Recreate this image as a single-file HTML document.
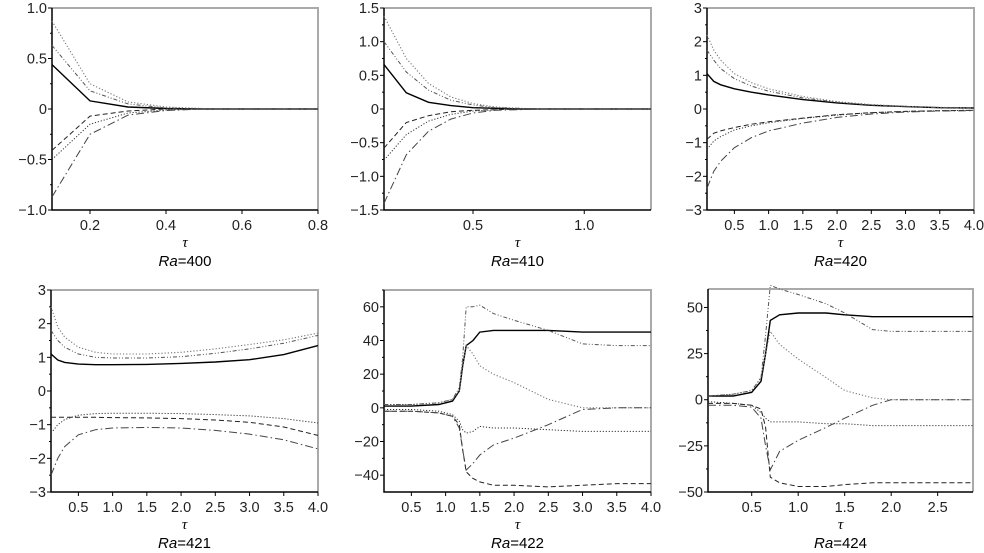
<!DOCTYPE html>
<html><head><meta charset="utf-8"><style>
html,body{margin:0;padding:0;background:#fff;}
svg{display:block;font-family:"Liberation Sans",sans-serif;}
</style></head><body>
<svg id="fig" width="984" height="553" viewBox="0 0 984 553"></svg>
<script>
// ---- data (per panel) ----
const p1X=[0.1,0.2,0.3,0.4,0.5,0.6,0.7,0.8];
const p1A=[0.44,0.08,0.02,0.005,0,0,0,0];
const p1B=[0.87,0.25,0.07,0.02,0.005,0,0,0];
const p1C=[0.63,0.18,0.05,0.01,0,0,0,0];
const p1D=[-0.41,-0.07,-0.02,0,0,0,0,0];
const p1E=[-0.5,-0.15,-0.04,-0.01,0,0,0,0];
const p1F=[-0.87,-0.25,-0.06,-0.015,0,0,0,0];
const p1XT=[0.2,0.4,0.6,0.8]; const p1YT=[-1.0,-0.5,0,0.5,1.0];

const p2X=[0.1,0.2,0.3,0.4,0.5,0.6,0.7,0.8,0.9,1.0,1.1,1.2,1.3];
const p2A=[0.66,0.24,0.1,0.05,0.02,0.01,0,0,0,0,0,0,0];
const p2B=[1.38,0.75,0.38,0.18,0.08,0.03,0.01,0,0,0,0,0,0];
const p2C=[1.0,0.55,0.28,0.13,0.06,0.02,0.01,0,0,0,0,0,0];
const p2D=[-0.58,-0.2,-0.1,-0.04,-0.02,-0.01,0,0,0,0,0,0,0];
const p2E=[-0.76,-0.38,-0.18,-0.08,-0.03,-0.01,0,0,0,0,0,0,0];
const p2F=[-1.4,-0.68,-0.33,-0.15,-0.06,-0.02,-0.01,0,0,0,0,0,0];
const p2XT=[0.5,1.0]; const p2YT=[-1.5,-1.0,-0.5,0,0.5,1.0,1.5];

const p3X=[0.1,0.2,0.3,0.5,0.75,1,1.5,2,2.5,3,3.5,4];
const p3A=[1.05,0.82,0.72,0.6,0.5,0.42,0.28,0.18,0.11,0.07,0.04,0.03];
const p3B=[2.2,1.75,1.45,1.05,0.78,0.6,0.37,0.22,0.13,0.08,0.05,0.03];
const p3C=[1.75,1.45,1.2,0.9,0.68,0.53,0.33,0.2,0.12,0.07,0.04,0.03];
const p3D=[-0.9,-0.72,-0.65,-0.55,-0.45,-0.38,-0.27,-0.17,-0.11,-0.07,-0.05,-0.04];
const p3E=[-1.2,-0.95,-0.82,-0.62,-0.5,-0.41,-0.28,-0.18,-0.11,-0.07,-0.05,-0.04];
const p3F=[-2.35,-1.85,-1.55,-1.15,-0.85,-0.65,-0.42,-0.25,-0.15,-0.09,-0.06,-0.05];
const p3XT=[0.5,1.0,1.5,2.0,2.5,3.0,3.5,4.0]; const p3YT=[-3,-2,-1,0,1,2,3];

const p4X=[0.1,0.2,0.3,0.5,0.75,1,1.5,2,2.5,3,3.5,4];
const p4A=[1.1,0.92,0.85,0.8,0.78,0.78,0.79,0.82,0.86,0.93,1.08,1.35];
const p4B=[2.5,1.9,1.6,1.3,1.15,1.1,1.1,1.15,1.25,1.38,1.52,1.72];
const p4C=[1.8,1.5,1.3,1.1,1.0,0.98,0.98,1.02,1.12,1.25,1.42,1.65];
const p4D=[-0.78,-0.78,-0.78,-0.78,-0.78,-0.79,-0.8,-0.82,-0.86,-0.93,-1.07,-1.32];
const p4E=[-1.25,-1.0,-0.85,-0.72,-0.67,-0.66,-0.66,-0.67,-0.7,-0.74,-0.82,-0.95];
const p4F=[-2.5,-2.0,-1.65,-1.3,-1.15,-1.1,-1.08,-1.1,-1.17,-1.28,-1.45,-1.72];
const p4XT=[0.5,1.0,1.5,2.0,2.5,3.0,3.5,4.0]; const p4YT=[-3,-2,-1,0,1,2,3];

const p5X=[0.1,0.5,0.9,1.1,1.2,1.25,1.3,1.4,1.5,1.7,2,2.5,3,3.5,4];
const p5A=[1,1,2,4,10,25,37,40,45,46,46,46,45,45,45];
const p5B=[2,2,3,5,10,25,37,32,25,20,15,5,0,0,0];
const p5C=[2,2,3,5,12,30,60,60,61,56,52,46,38,37,37];
const p5D=[-2,-2,-3,-5,-10,-25,-38,-42,-44,-46,-46,-47,-46,-45,-45];
const p5E=[-1,-1,-2,-4,-8,-13,-15,-14,-11,-12,-12,-13,-14,-14,-14];
const p5F=[-2,-2,-3,-5,-12,-25,-37,-33,-28,-22,-18,-10,-1,0,0];
const p5XT=[0.5,1.0,1.5,2.0,2.5,3.0,3.5,4.0]; const p5YT=[-40,-20,0,20,40,60];

const p6X=[0.03,0.3,0.5,0.6,0.65,0.7,0.8,1.0,1.3,1.5,1.8,2.0,2.5,2.88];
const p6A=[2,2,4,10,25,43,46,47,47,46,45,45,45,45];
const p6B=[2,3,5,12,25,37,30,22,12,5,1,0,0,0];
const p6C=[2,3,5,12,35,62,60,57,52,47,38,37,37,37];
const p6D=[-2,-2,-3,-5,-15,-42,-45,-47,-47,-46,-45,-45,-45,-45];
const p6E=[-1,-2,-3,-7,-10,-12,-12,-12,-13,-13,-14,-14,-14,-14];
const p6F=[-3,-3,-4,-10,-25,-38,-28,-22,-15,-10,-3,0,0,0];
const p6XT=[0.5,1.0,1.5,2.0,2.5]; const p6YT=[-50,-25,0,25,50];

const titles=["400","410","420","421","422","424"];

const NS="http://www.w3.org/2000/svg";
const svg=document.getElementById('fig');
function mk(tag,attrs,parent){const e=document.createElementNS(NS,tag);for(const k in attrs)e.setAttribute(k,attrs[k]);(parent||svg).appendChild(e);return e;}

const styles=[
 {k:'A',stroke:'#000',dash:'',w:1.4},
 {k:'B',stroke:'#777',dash:'1.2 2',w:1.1},
 {k:'C',stroke:'#555',dash:'4 2 1 2 1 2',w:1},
 {k:'D',stroke:'#222',dash:'5 3',w:1},
 {k:'E',stroke:'#333',dash:'1.2 1.8',w:1},
 {k:'F',stroke:'#444',dash:'8 3 1.5 3',w:1}
];

const panels=[
 {box:[52,8,318,210],xd:[0.1,0.8],yd:[-1,1],X:p1X,S:[p1A,p1B,p1C,p1D,p1E,p1F],xt:p1XT,yt:p1YT,fx:1,fy:1},
 {box:[384,8,651,210],xd:[0.1,1.3],yd:[-1.5,1.5],X:p2X,S:[p2A,p2B,p2C,p2D,p2E,p2F],xt:p2XT,yt:p2YT,fx:1,fy:1},
 {box:[707,8,974,210],xd:[0.1,4.0],yd:[-3,3],X:p3X,S:[p3A,p3B,p3C,p3D,p3E,p3F],xt:p3XT,yt:p3YT,fx:1,fy:0},
 {box:[51,290,318,492],xd:[0.1,4.0],yd:[-3,3],X:p4X,S:[p4A,p4B,p4C,p4D,p4E,p4F],xt:p4XT,yt:p4YT,fx:1,fy:0},
 {box:[384,290,651,492],xd:[0.1,4.0],yd:[-50,70],X:p5X,S:[p5A,p5B,p5C,p5D,p5E,p5F],xt:p5XT,yt:p5YT,fx:1,fy:0},
 {box:[708,289,973,492],xd:[0.03,2.88],yd:[-50,60],X:p6X,S:[p6A,p6B,p6C,p6D,p6E,p6F],xt:p6XT,yt:p6YT,fx:1,fy:0}
];

panels.forEach((p,i)=>{
  const [x0,y0,x1,y1]=p.box;
  const g=mk('g',{});
  
  
  const sx=v=>x0+(v-p.xd[0])/(p.xd[1]-p.xd[0])*(x1-x0);
  const sy=v=>y1-(v-p.yd[0])/(p.yd[1]-p.yd[0])*(y1-y0);
  const fr=mk('polyline',{points:`${x0},${y0} ${x1},${y0} ${x1},${y1}`,fill:'none',stroke:'#aaa','stroke-width':2},g);
  
  
  const ax=mk('polyline',{points:`${x0},${y0} ${x0},${y1} ${x1},${y1}`,fill:'none',stroke:'#000','stroke-width':1.5},g);
  
  
  p.xt.forEach(t=>{
    const x=sx(t);
    mk('line',{x1:x,y1:y1,x2:x,y2:y1+4,stroke:'#000'},g);
    const tx=mk('text',{x:x,y:y1+20,'font-size':14.5,'text-anchor':'middle',fill:'#222'},g);
    tx.textContent=t.toFixed(p.fx);
    
    
  });
  const step=p.yt[1]-p.yt[0];
  p.yt.forEach((t,j)=>{
    const y=sy(t);
    mk('line',{x1:x0-4,y1:y,x2:x0,y2:y,stroke:'#000'},g);
    const ym=sy(t+step/2); if(ym>=y0) mk('line',{x1:x0-2,y1:ym,x2:x0,y2:ym,stroke:'#000'},g);
    const tx=mk('text',{x:x0-5,y:y+5,'font-size':14.5,'text-anchor':'end',fill:'#222'},g);
    tx.textContent=t===0?'0':(t<0?'\u2212':'')+Math.abs(t).toFixed(p.fy);
    
    
  });
  p.S.forEach((vals,k)=>{
    const st=styles[k];
    const pts=p.X.map((xv,n)=>sx(xv).toFixed(1)+','+sy(vals[n]).toFixed(1)).join(' ');
    const pl=mk('polyline',{points:pts,fill:'none',stroke:st.stroke,'stroke-width':st.w,'stroke-dasharray':st.dash},g);
    
    
  });
  const tau=mk('text',{x:(x0+x1)/2,y:y1+37,'font-size':15,'text-anchor':'middle','font-style':'italic','font-family':'Liberation Serif, serif'},g);
  tau.textContent='τ';
  
  
  const tt=mk('text',{x:(x0+x1)/2,y:y1+56,'font-size':15,'text-anchor':'middle'},g);
  const it=mk('tspan',{'font-style':'italic'},tt); it.textContent='Ra';
  const rest=mk('tspan',{},tt); rest.textContent='='+titles[i];
  
  
});
</script>
</body></html>
